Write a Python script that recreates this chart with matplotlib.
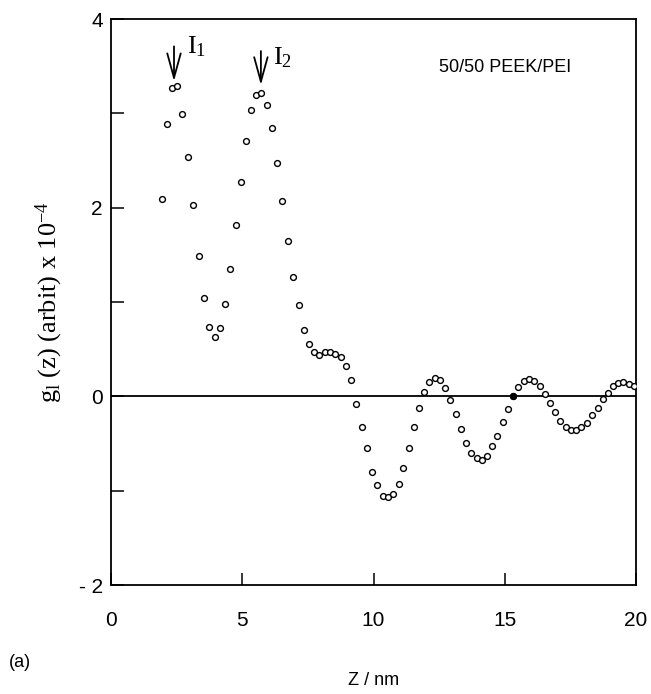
import matplotlib
matplotlib.use("Agg")
import matplotlib.pyplot as plt
from matplotlib.ticker import MultipleLocator

plt.rcParams['font.family'] = ['Liberation Sans', 'DejaVu Sans']
plt.rcParams['mathtext.fontset'] = 'custom'
plt.rcParams['mathtext.rm'] = 'Liberation Serif'
plt.rcParams['mathtext.it'] = 'Liberation Serif:italic'

# g1(z), Z in nm
z = [1.93, 2.13, 2.31, 2.51, 2.72, 2.92, 3.14, 3.34, 3.55, 3.73,
     3.95, 4.15, 4.34, 4.54, 4.75, 4.94, 5.13, 5.35, 5.52, 5.73,
     5.93, 6.13, 6.34, 6.53, 6.74, 6.93, 7.15, 7.34, 7.54, 7.74,
     7.93, 8.14, 8.34, 8.54, 8.75, 8.94, 9.13, 9.33, 9.55, 9.75,
     9.96, 10.15, 10.35, 10.54, 10.74, 10.96, 11.14, 11.35, 11.54, 11.73,
     11.92, 12.13, 12.33, 12.53, 12.74, 12.93, 13.13, 13.33, 13.54, 13.73,
     13.93, 14.12, 14.32, 14.53, 14.72, 14.92, 15.12, 15.33, 15.52, 15.72,
     15.92, 16.13, 16.33, 16.52, 16.72, 16.93, 17.12, 17.32, 17.52, 17.72,
     17.91, 18.13, 18.33, 18.54, 18.74, 18.93, 19.12, 19.31, 19.51, 19.72,
     19.92]
g1 = [2.09, 2.89, 3.27, 3.29, 2.99, 2.54, 2.03, 1.49, 1.04, 0.74,
      0.63, 0.72, 0.98, 1.35, 1.82, 2.27, 2.71, 3.04, 3.19, 3.22,
      3.09, 2.84, 2.47, 2.07, 1.65, 1.27, 0.97, 0.70, 0.55, 0.47,
      0.44, 0.47, 0.47, 0.45, 0.42, 0.32, 0.17, -0.08, -0.33, -0.55,
      -0.80, -0.94, -1.06, -1.07, -1.04, -0.93, -0.76, -0.55, -0.33, -0.12,
      0.05, 0.15, 0.19, 0.17, 0.09, -0.04, -0.19, -0.35, -0.49, -0.60,
      -0.65, -0.67, -0.63, -0.53, -0.42, -0.27, -0.13, 0.00, 0.10, 0.16,
      0.18, 0.16, 0.11, 0.02, -0.07, -0.17, -0.26, -0.32, -0.36, -0.36,
      -0.33, -0.28, -0.20, -0.12, -0.03, 0.04, 0.11, 0.14, 0.15, 0.13,
      0.11]
filled_idx = 67  # one point drawn solid in the original

yticks = [-2, 0, 2, 4]
ytick_labels = ['- 2', '0', '2', '4']
peaks = [(2.40, 'I$_1$'), (5.71, 'I$_2$')]

fig = plt.figure(figsize=(6.51, 6.94), dpi=100)
ax = fig.add_axes([0.1705, 0.157, 0.8065, 0.8156])

ax.axhline(0, color='black', lw=1.3, zorder=1)
ax.plot(z, g1, 'o', ls='none', ms=4.2, mfc='white', mec='black', mew=1.0, zorder=3)
ax.plot(z[filled_idx], g1[filled_idx], 'o', ms=4.2, mfc='black', mec='black', zorder=4)

ax.set_xlim(0, 20)
ax.set_ylim(-2, 4)
ax.set_xticks([0, 5, 10, 15, 20])
ax.set_yticks(yticks)
ax.set_yticklabels(ytick_labels)
ax.yaxis.set_minor_locator(MultipleLocator(1))
ax.tick_params(which='both', direction='in', length=9, width=1.1, labelsize=15,
               top=False, right=False)
ax.tick_params(axis='x', pad=19)
ax.tick_params(axis='y', pad=6)
for s in ax.spines.values():
    s.set_linewidth(1.3)

# peak arrows
arrow_top = [3.71, 3.66]
arrow_tip = [3.34, 3.30]
label_pos = [(2.90, 3.84), (6.17, 3.72)]
for (px, lab), yt, yb, (lx, ly) in zip(peaks, arrow_top, arrow_tip, label_pos):
    ax.annotate('', xy=(px, yb), xytext=(px, yt),
                arrowprops=dict(arrowstyle='->, head_length=0.8, head_width=0.22',
                                lw=1.3, color='black', mutation_scale=22,
                                shrinkA=0, shrinkB=0))
    ax.text(lx, ly, lab, fontsize=19, va='top', ha='left', family='Liberation Serif')

ax.text(15.0, 3.49, '50/50 PEEK/PEI', fontsize=13, ha='center', va='center')

ax.set_ylabel(r'g$_{\mathrm{l}}$ (z) (arbit) x 10$^{-4}$', fontsize=19,
              family='Liberation Serif', labelpad=10)
ax.set_xlabel('Z / nm', fontsize=13, labelpad=30)
fig.text(0.03, 0.045, '(a)', fontsize=13, ha='center', va='center')

fig.savefig('out.png', dpi=100)
